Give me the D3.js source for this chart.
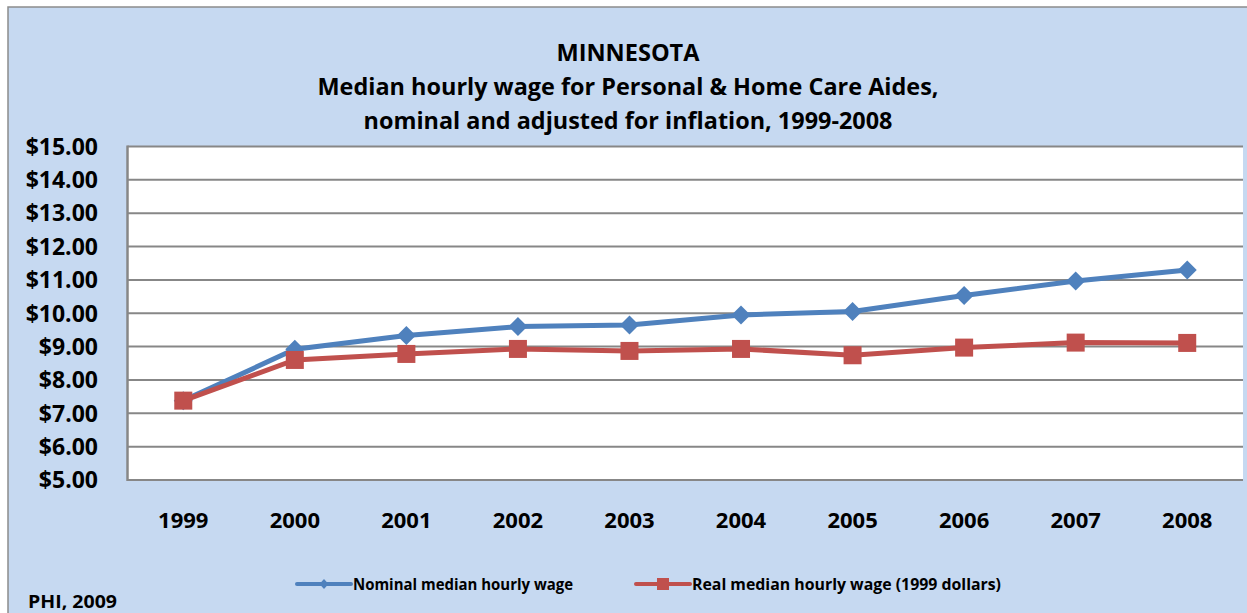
<!DOCTYPE html>
<html>
<head>
<meta charset="utf-8">
<script src="https://cdn.jsdelivr.net/npm/d3@7/dist/d3.min.js"></script>
<style>
  body { margin: 0; background: #fff; }
  text { font-family: "Open Sans", Lato, sans-serif; font-weight: bold; fill: #000; }
</style>
</head>
<body>
<div id="chart"></div>
<script>
// Data
var years = ["1999", "2000", "2001", "2002", "2003", "2004", "2005", "2006", "2007", "2008"];
var nominalWage = [7.38, 8.92, 9.33, 9.60, 9.65, 9.95, 10.05, 10.53, 10.97, 11.30];
var realWage = [7.38, 8.60, 8.78, 8.93, 8.87, 8.93, 8.74, 8.97, 9.12, 9.11];
var yTicks = [5, 6, 7, 8, 9, 10, 11, 12, 13, 14, 15];
var titleLines = ["MINNESOTA",
    "Median hourly wage for Personal & Home Care Aides,",
    "nominal and adjusted for inflation, 1999-2008"];
var seriesNames = ["Nominal median hourly wage", "Real median hourly wage (1999 dollars)"];

var width = 1247, height = 613;
var margin = {top: 146.5, right: 4, bottom: 133, left: 127.5};

var svg = d3.select("#chart").append("svg")
    .attr("width", width)
    .attr("height", height);

// Outer chart box
svg.append("rect")
    .attr("x", 8).attr("y", 7)
    .attr("width", width + 10).attr("height", height + 10)
    .attr("fill", "#c6d9f1")
    .attr("stroke", "#8c8c8c")
    .attr("stroke-width", 1.5);

// Scales
var x = d3.scaleBand()
    .domain(years)
    .range([margin.left, width - margin.right]);

var y = d3.scaleLinear()
    .domain([5, 15])
    .range([height - margin.bottom, margin.top]);

// Plot area
svg.append("rect")
    .attr("x", margin.left)
    .attr("y", margin.top)
    .attr("width", width - margin.right - margin.left)
    .attr("height", y(5) - margin.top)
    .attr("fill", "#ffffff");

// Gridlines
svg.append("g")
    .selectAll("line")
    .data(yTicks)
    .enter().append("line")
    .attr("x1", margin.left)
    .attr("x2", width - margin.right)
    .attr("y1", function (d) { return y(d); })
    .attr("y2", function (d) { return y(d); })
    .attr("stroke", "#878787")
    .attr("stroke-width", 2);

// Left axis line
svg.append("line")
    .attr("x1", margin.left).attr("x2", margin.left)
    .attr("y1", margin.top - 1).attr("y2", y(5) + 1)
    .attr("stroke", "#878787")
    .attr("stroke-width", 2.5);

// Y tick labels
svg.append("g")
    .selectAll("text")
    .data(yTicks)
    .enter().append("text")
    .attr("x", 98)
    .attr("y", function (d) { return y(d); })
    .attr("dy", "0.36em")
    .attr("text-anchor", "end")
    .style("font-size", "23px")
    .text(function (d) { return "$" + d.toFixed(2); });

// X tick labels
svg.append("g")
    .selectAll("text")
    .data(years)
    .enter().append("text")
    .attr("x", function (d) { return x(d) + x.bandwidth() / 2; })
    .attr("y", 528)
    .attr("text-anchor", "middle")
    .style("font-size", "22px")
    .text(function (d) { return d; });

// Title
var titleWidths = [143, 621, 529];
svg.append("g")
    .selectAll("text")
    .data(titleLines)
    .enter().append("text")
    .attr("x", 628)
    .attr("y", function (d, i) { return 61 + i * 34; })
    .attr("text-anchor", "middle")
    .attr("textLength", function (d, i) { return titleWidths[i]; })
    .attr("lengthAdjust", "spacingAndGlyphs")
    .style("font-size", "23px")
    .text(function (d) { return d; });

// Lines
var line = d3.line()
    .x(function (d, i) { return x(years[i]) + x.bandwidth() / 2; })
    .y(function (d) { return y(d); });

var blue = "#4f81bd", red = "#c0504d";

svg.append("path")
    .datum(nominalWage)
    .attr("d", line)
    .attr("fill", "none")
    .attr("stroke", blue)
    .attr("stroke-width", 5);

svg.append("g")
    .selectAll("path")
    .data(nominalWage)
    .enter().append("path")
    .attr("transform", function (d, i) {
        return "translate(" + (x(years[i]) + x.bandwidth() / 2) + "," + y(d) + ")";
    })
    .attr("d", "M0,-9.5L9.5,0L0,9.5L-9.5,0Z")
    .attr("fill", blue);

svg.append("path")
    .datum(realWage)
    .attr("d", line)
    .attr("fill", "none")
    .attr("stroke", red)
    .attr("stroke-width", 5);

svg.append("g")
    .selectAll("rect")
    .data(realWage)
    .enter().append("rect")
    .attr("x", function (d, i) { return x(years[i]) + x.bandwidth() / 2 - 9; })
    .attr("y", function (d) { return y(d) - 9; })
    .attr("width", 18)
    .attr("height", 18)
    .attr("fill", red);

// Legend
var legend = svg.append("g");
var legendX = [297, 636];
var legendTextWidths = [220, 309];
var legendColors = [blue, red];

legend.selectAll("line")
    .data(seriesNames)
    .enter().append("line")
    .attr("x1", function (d, i) { return legendX[i]; })
    .attr("x2", function (d, i) { return legendX[i] + 54; })
    .attr("y1", 584).attr("y2", 584)
    .attr("stroke", function (d, i) { return legendColors[i]; })
    .attr("stroke-width", 4)
    .attr("stroke-linecap", "round");

legend.append("path")
    .attr("d", "M324,579L328.5,584L324,589L319.5,584Z")
    .attr("fill", blue);

legend.append("rect")
    .attr("x", 657).attr("y", 578)
    .attr("width", 12).attr("height", 12)
    .attr("fill", red);

legend.selectAll("text")
    .data(seriesNames)
    .enter().append("text")
    .attr("x", function (d, i) { return legendX[i] + 56; })
    .attr("y", 590)
    .attr("textLength", function (d, i) { return legendTextWidths[i]; })
    .attr("lengthAdjust", "spacingAndGlyphs")
    .style("font-size", "16px")
    .text(function (d) { return d; });

// Source
svg.append("text")
    .attr("x", 28)
    .attr("y", 608)
    .attr("textLength", 89)
    .attr("lengthAdjust", "spacingAndGlyphs")
    .style("font-size", "17px")
    .text("PHI, 2009");
</script>
</body>
</html>
